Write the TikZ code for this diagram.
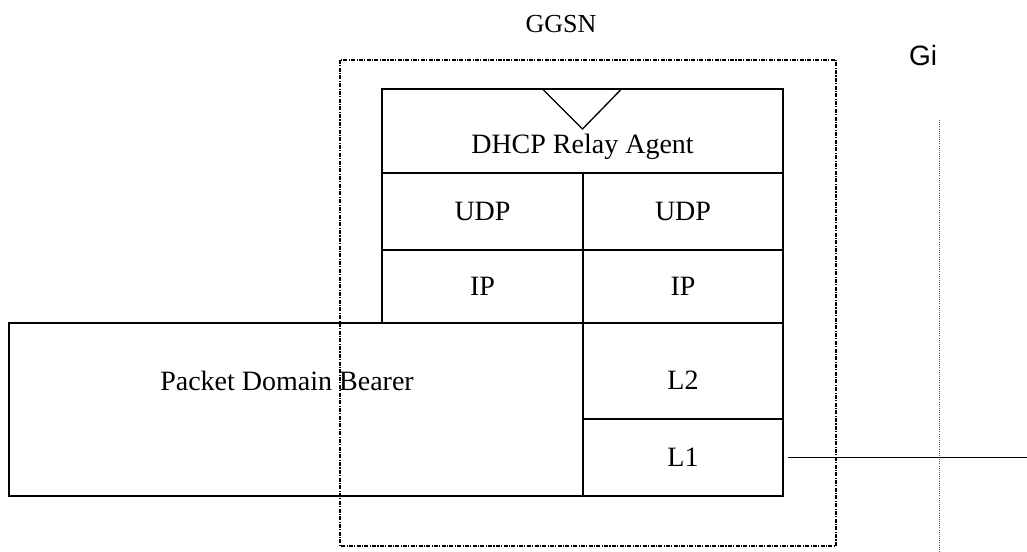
\documentclass[tikz,border=0pt]{standalone}
\usepackage{fontspec}
\setmainfont{Liberation Serif}
\newfontfamily\gifont{Liberation Sans}
\usepackage{tikz}
\usetikzlibrary{positioning, calc}
\tikzset{cell/.style={rectangle,draw,line width=1.4pt,inner sep=0pt,outer sep=0pt,align=center,font=\fontsize{21}{25}\selectfont},
         lbl/.style={inner sep=0pt,font=\fontsize{21}{25}\selectfont},
         boundary/.style={draw,line width=1.4pt,dash pattern=on 3pt off 1pt on 0.8pt off 1pt},
         refline/.style={draw,gray!70!black,line width=0.6pt,densely dotted},
         link/.style={line width=1.4pt}}

\begin{document}
\begin{tikzpicture}[x=0.75pt,y=-0.75pt]
    \useasboundingbox (0,0) rectangle (1027,552);
    % GGSN boundary and Gi reference point
    \draw[boundary] (340,60) rectangle (836,546);
    \node (ggsn) at (561,24) [lbl,font=\fontsize{19.5}{23}\selectfont] {GGSN};
    \node (gi) at (923,55) [lbl,font=\gifont\fontsize{21}{25}\selectfont] {Gi};
    \draw[refline] (939,120) -- (939,552);
    % protocol stack
    \node (dhcp) at (582.5,131) [cell,minimum width=300.75pt,minimum height=63pt] {};
    \node (dhcplbl) [lbl,above=10pt of dhcp.south] {DHCP Relay Agent};
    \node (udpl) [cell,minimum width=150.75pt,minimum height=57.75pt,below=0pt of dhcp.south west,anchor=north west] {UDP};
    \node (udpr) [cell,minimum width=150pt,minimum height=57.75pt,below=0pt of dhcp.south east,anchor=north east] {UDP};
    \node (ipl) [cell,minimum width=150.75pt,minimum height=54.75pt,below=0pt of udpl] {IP};
    \node (ipr) [cell,minimum width=150pt,minimum height=54.75pt,below=0pt of udpr] {IP};
    \node (l2) [cell,minimum width=150pt,minimum height=72pt,below=0pt of ipr,text height=27.8pt,text depth=0pt] {L2};
    \node (l1) [cell,minimum width=150pt,minimum height=57.75pt,below=0pt of l2] {L1};
    \node (bearer) at (296,409.5) [cell,minimum width=430.5pt,minimum height=129.75pt] {};
    \node (bearerlbl) at (287,381) [lbl] {Packet Domain Bearer};
    \draw[line width=1pt] ([xshift=-30pt]dhcp.north) -- ([yshift=-30pt]dhcp.north) -- ([xshift=29.25pt]dhcp.north);
    % link towards Gi
    \coordinate (giend) at ($(l1.east)+(244,0)$);
    \draw[link] ([xshift=3.75pt]l1.east) -- (giend);
\end{tikzpicture}
\end{document}
